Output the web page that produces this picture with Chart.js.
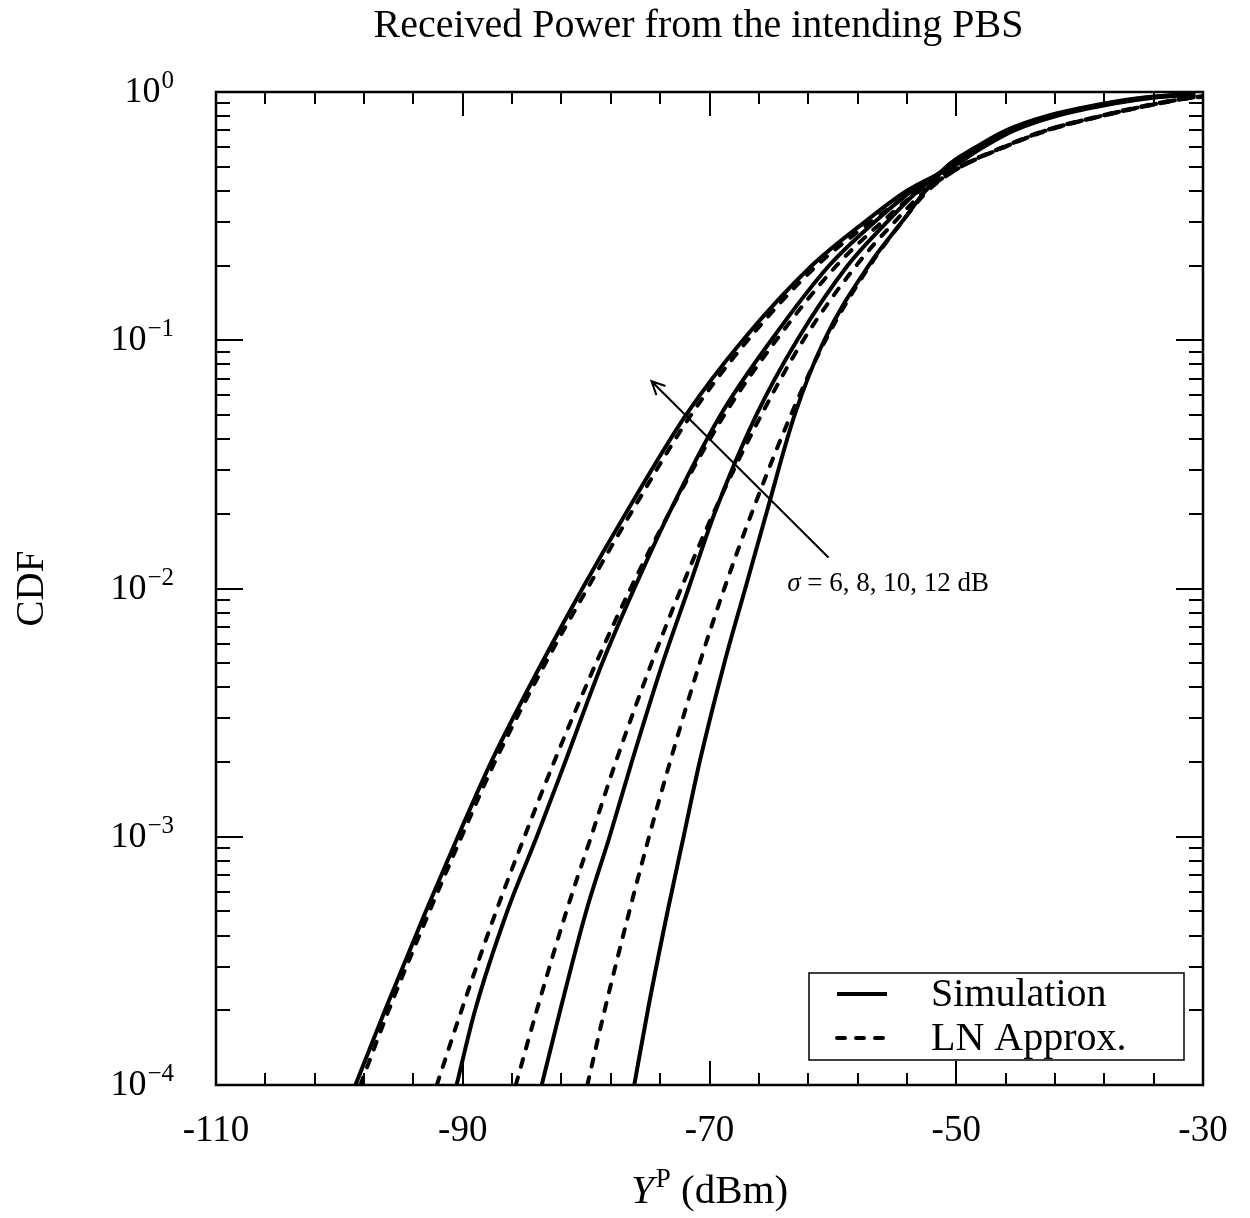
<!DOCTYPE html>
<html>
<head>
<meta charset="utf-8">
<title>Received Power from the intending PBS</title>
<script src="https://cdn.jsdelivr.net/npm/chart.js@4.4.1/dist/chart.umd.min.js"></script>
<style>
  html, body { margin: 0; padding: 0; background: #fff; }
  canvas { display: block; }
</style>
</head>
<body>
<canvas id="cdfChart" width="1250" height="1218"></canvas>
<script>
const chartTitle = 'Received Power from the intending PBS';
const yAxisTitle = 'CDF';
const legendLabels = ['Simulation', 'LN Approx.'];
const noteText = ' = 6, 8, 10, 12 dB';

// CDF levels at which each curve was read
const cdfLevels = [1e-4, 2e-4, 5e-4, 1e-3, 2e-3, 5e-3, 1e-2, 2e-2, 5e-2, 0.1,
                   0.2, 0.3, 0.4, 0.5, 0.6, 0.7, 0.8, 0.9, 0.95, 0.98];

// received power (dBm) reaching each CDF level, simulation
const simSigma6  = [-76.1, -75.0, -73.4, -72.1, -70.8, -68.8, -67.1, -65.4, -63.1, -60.7,
                    -57.1, -54.4, -52.5, -50.8, -48.4, -46.0, -42.7, -38.0, -34.8, -31.6];
const simSigma8  = [-83.6, -82.1, -80.0, -78.1, -76.3, -73.8, -71.7, -69.6, -66.2, -62.9,
                    -58.8, -55.6, -53.1, -50.7, -48.2, -45.8, -42.5, -37.7, -34.5, -31.2];
const simSigma10 = [-90.5, -89.0, -86.4, -84.0, -81.7, -78.7, -76.1, -73.3, -69.1, -65.0,
                    -60.3, -56.6, -53.6, -50.5, -48.0, -45.6, -42.2, -37.4, -34.2, -30.9];
const simSigma12 = [-98.7, -96.3, -93.0, -90.4, -87.7, -83.6, -80.3, -76.8, -71.9, -67.3,
                    -61.7, -57.4, -54.0, -50.3, -47.8, -45.3, -41.9, -37.1, -33.9, -30.6];

// same, lognormal approximation
const lnSigma6  = [-79.9, -78.5, -76.5, -74.9, -73.2, -70.8, -68.8, -66.6, -63.4, -60.6,
                   -57.0, -54.4, -52.3, -49.6, -46.2, -42.8, -38.4, -33.8, -31.0, -27.4];
const lnSigma8  = [-85.7, -84.0, -81.6, -79.6, -77.6, -74.7, -72.3, -69.7, -65.8, -62.4,
                   -58.1, -55.0, -52.5, -49.6, -46.1, -42.7, -38.3, -33.6, -30.9, -27.3];
const lnSigma10 = [-92.1, -90.1, -87.3, -85.0, -82.6, -79.2, -76.4, -73.3, -68.8, -64.6,
                   -59.7, -56.0, -53.0, -49.7, -46.1, -42.6, -38.2, -33.5, -30.8, -27.2];
const lnSigma12 = [-98.3, -96.0, -92.7, -90.1, -87.4, -83.3, -79.9, -76.4, -71.5, -66.9,
                   -61.3, -56.9, -53.4, -49.8, -46.2, -42.7, -38.2, -33.5, -30.7, -27.0];

const xTickLabels = [-110, -90, -70, -50, -30];
const xTickValues = Array.from({length: 21}, (_, i) => -110 + 4 * i);
const yDecades = [-4, -3, -2, -1, 0];

// arrow and note, in data units (dBm, CDF)
const arrowFrom = [-60.4, 0.0134];
const arrowTo = [-74.7, 0.0684];
const noteAt = [-63.7, 0.0098];

const serif = '"Liberation Serif", "Times New Roman", serif';
const lineW = 4;
const dash = [8, 11];

function toPoints(xs) {
    return cdfLevels.map((c, i) => ({x: xs[i], y: c}));
}

function makeSet(label, xs, dashed) {
    return {
        label: label,
        data: toPoints(xs),
        showLine: true,
        borderColor: '#000',
        backgroundColor: '#000',
        borderWidth: lineW,
        borderDash: dashed ? dash : [],
        borderCapStyle: dashed ? 'round' : 'butt',
        borderJoinStyle: 'round',
        pointRadius: 0,
        cubicInterpolationMode: 'monotone',
        fill: false
    };
}

/* title, frame, inward ticks, y labels, x title, legend and the arrow */
const decorations = {
    id: 'decorations',
    afterDraw(chart) {
        const ctx = chart.ctx;
        const a = chart.chartArea;
        const x = chart.scales.x;
        const y = chart.scales.y;
        ctx.save();

        // title
        ctx.fillStyle = '#000';
        ctx.textAlign = 'center';
        ctx.textBaseline = 'alphabetic';
        ctx.font = '40px ' + serif;
        ctx.fillText(chartTitle, (a.left + a.right) / 2 - 11, 37);

        // ticks on all four sides
        ctx.strokeStyle = '#000';
        ctx.lineWidth = 2;
        ctx.beginPath();
        x.ticks.forEach(t => {
            const px = Math.round(x.getPixelForValue(t.value));
            const len = xTickLabels.includes(t.value) ? 24 : 12;
            ctx.moveTo(px, a.bottom); ctx.lineTo(px, a.bottom - len);
            ctx.moveTo(px, a.top); ctx.lineTo(px, a.top + len);
        });
        y.ticks.forEach(t => {
            const py = Math.round(y.getPixelForValue(t.value));
            const lg = Math.log10(t.value);
            const len = Math.abs(lg - Math.round(lg)) < 1e-9 ? 27 : 14;
            ctx.moveTo(a.left, py); ctx.lineTo(a.left + len, py);
            ctx.moveTo(a.right, py); ctx.lineTo(a.right - len, py);
        });
        ctx.stroke();
        ctx.lineWidth = 2.5;
        ctx.strokeRect(a.left, a.top, a.right - a.left, a.bottom - a.top);

        // y tick labels 10^n
        ctx.textAlign = 'right';
        yDecades.forEach(d => {
            const py = y.getPixelForValue(Math.pow(10, d));
            const ex = d === 0 ? '0' : '\u2212' + Math.abs(d);
            ctx.font = '25px ' + serif;
            const exW = ctx.measureText(ex).width;
            ctx.fillText(ex, a.left - 42, py - 4);
            ctx.font = '36px ' + serif;
            ctx.fillText('10', a.left - 42 - exW - 1, py + 10);
        });

        // x axis title: Y^P (dBm)
        ctx.textAlign = 'left';
        ctx.font = 'italic 41px ' + serif;
        const wY = ctx.measureText('Y').width;
        ctx.font = '27px ' + serif;
        const wP = ctx.measureText('P').width;
        ctx.font = '41px ' + serif;
        const wRest = ctx.measureText(' (dBm)').width;
        let tx = (a.left + a.right) / 2 - (wY + wP + 2 + wRest) / 2;
        const ty = a.bottom + 118;
        ctx.font = 'italic 41px ' + serif;
        ctx.fillText('Y', tx, ty);
        tx += wY + 2;
        ctx.font = '27px ' + serif;
        ctx.fillText('P', tx, ty - 16);
        tx += wP;
        ctx.font = '41px ' + serif;
        ctx.fillText(' (dBm)', tx, ty);

        // legend box
        const lx = a.right - 394, ly = a.bottom - 112, lw = 375, lh = 87;
        ctx.fillStyle = '#fff';
        ctx.fillRect(lx, ly, lw, lh);
        ctx.lineWidth = 1.5;
        ctx.strokeStyle = '#000';
        ctx.strokeRect(lx, ly, lw, lh);
        const sets = [chart.data.datasets[0], chart.data.datasets[4]];
        const rows = [ly + 21, ly + 65];
        sets.forEach((ds, i) => {
            ctx.beginPath();
            ctx.lineWidth = ds.borderWidth;
            ctx.setLineDash(ds.borderDash);
            ctx.lineCap = ds.borderCapStyle;
            ctx.moveTo(lx + 28, rows[i]);
            ctx.lineTo(lx + 78, rows[i]);
            ctx.stroke();
            ctx.setLineDash([]);
            ctx.fillStyle = '#000';
            ctx.font = '40px ' + serif;
            ctx.fillText(legendLabels[i], lx + 122, rows[i] + 12);
        });

        // arrow
        const x0 = x.getPixelForValue(arrowFrom[0]), y0 = y.getPixelForValue(arrowFrom[1]);
        const x1 = x.getPixelForValue(arrowTo[0]), y1 = y.getPixelForValue(arrowTo[1]);
        const ang = Math.atan2(y1 - y0, x1 - x0);
        ctx.lineWidth = 2;
        ctx.lineCap = 'round';
        ctx.beginPath();
        ctx.moveTo(x0, y0); ctx.lineTo(x1, y1);
        ctx.moveTo(x1 - 14 * Math.cos(ang - 0.45), y1 - 14 * Math.sin(ang - 0.45));
        ctx.lineTo(x1, y1);
        ctx.lineTo(x1 - 14 * Math.cos(ang + 0.45), y1 - 14 * Math.sin(ang + 0.45));
        ctx.stroke();

        // sigma note
        const nx = x.getPixelForValue(noteAt[0]), ny = y.getPixelForValue(noteAt[1]);
        ctx.font = 'italic 27px ' + serif;
        ctx.fillText('\u03c3', nx, ny);
        const ws = ctx.measureText('\u03c3').width;
        ctx.font = '27px ' + serif;
        ctx.fillText(noteText, nx + ws, ny);

        ctx.restore();
    }
};

const ctx = document.getElementById('cdfChart').getContext('2d');
const myChart = new Chart(ctx, {
    type: 'scatter',
    data: {
        datasets: [
            makeSet('Simulation, sigma 6', simSigma6, false),
            makeSet('Simulation, sigma 8', simSigma8, false),
            makeSet('Simulation, sigma 10', simSigma10, false),
            makeSet('Simulation, sigma 12', simSigma12, false),
            makeSet('LN Approx., sigma 6', lnSigma6, true),
            makeSet('LN Approx., sigma 8', lnSigma8, true),
            makeSet('LN Approx., sigma 10', lnSigma10, true),
            makeSet('LN Approx., sigma 12', lnSigma12, true)
        ]
    },
    options: {
        responsive: false,
        animation: false,
        devicePixelRatio: 1,
        layout: {
            padding: {left: 0, right: 47, top: 92, bottom: 0}
        },
        scales: {
            x: {
                type: 'linear',
                min: -110,
                max: -30,
                grid: {display: false},
                border: {display: false},
                afterBuildTicks: (scale) => {
                    scale.ticks = xTickValues.map(v => ({value: v}));
                },
                afterFit: (scale) => { scale.height = 133; },
                ticks: {
                    autoSkip: false,
                    maxRotation: 0,
                    padding: 16,
                    color: '#000',
                    font: {family: serif, size: 37},
                    callback: (value) => xTickLabels.includes(value) ? String(value) : ''
                }
            },
            y: {
                type: 'logarithmic',
                min: 1e-4,
                max: 1,
                grid: {display: false},
                border: {display: false},
                afterBuildTicks: (scale) => {
                    const vals = [];
                    yDecades.forEach(d => {
                        const steps = d === 0 ? 1 : 9;
                        for (let m = 1; m <= steps; m++) vals.push(m * Math.pow(10, d));
                    });
                    scale.ticks = vals.map(v => ({value: v}));
                },
                afterFit: (scale) => { scale.width = 216; },
                ticks: {display: false},
                title: {
                    display: true,
                    text: yAxisTitle,
                    color: '#000',
                    font: {family: serif, size: 39},
                    padding: {top: 9, bottom: 0}
                }
            }
        },
        plugins: {
            title: {display: false},
            legend: {display: false},
            tooltip: {enabled: false}
        }
    },
    plugins: [decorations]
});
</script>
</body>
</html>
